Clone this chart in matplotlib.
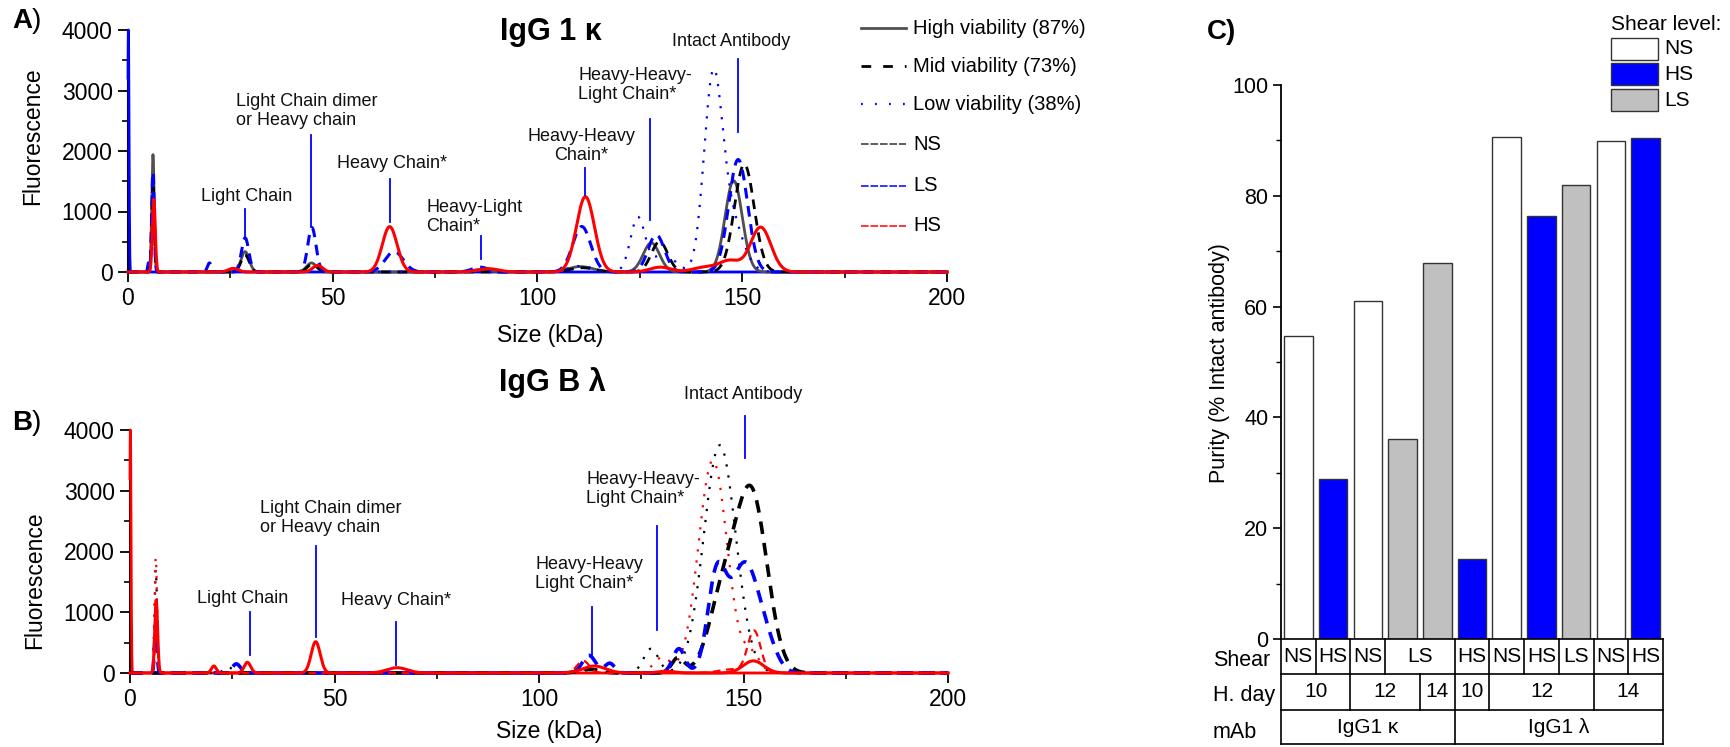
import numpy as np
import matplotlib.pyplot as plt
from matplotlib.lines import Line2D
from matplotlib.patches import Rectangle
from matplotlib.transforms import blended_transform_factory

plt.rcParams['font.family'] = ['Liberation Sans', 'DejaVu Sans']

# ---------------- data: electropherogram peaks (centre kDa, height, sd) ----------------
# panel A, IgG 1 kappa
a_high_ns_pos = [6.1, 28.6, 44.8, 86.0, 110.5, 127.8, 147.9]
a_high_ns_ht = [1940, 337, 150, 40, 90, 481, 1510]
a_high_ns_sd = [0.3, 1.0, 1.2, 2.0, 3.0, 2.0, 2.1]

a_mid_ns_pos = [6.1, 28.6, 45.0, 111.0, 129.8, 150.5]
a_mid_ns_ht = [1500, 280, 130, 70, 500, 1780]
a_mid_ns_sd = [0.3, 1.0, 1.2, 3.0, 2.0, 2.4]

a_low_ls_pos = [6.1, 110.5, 124.5, 131.0, 142.8, 147.0]
a_low_ls_ht = [1400, 100, 900, 300, 3000, 900]
a_low_ls_sd = [0.3, 3.0, 1.8, 2.5, 2.2, 3.0]

a_mid_ls_pos = [5.0, 6.1, 19.9, 28.6, 44.9, 65.0, 86.0, 110.8, 129.0, 149.0]
a_mid_ls_ht = [150, 1660, 150, 564, 736, 337, 80, 752, 614, 1859]
a_mid_ls_sd = [0.2, 0.3, 0.5, 0.9, 1.0, 2.2, 2.0, 2.2, 2.0, 2.3]

a_high_hs_pos = [6.3, 25.7, 46.3, 63.9, 88.0, 111.7, 130.0, 141.0, 147.0, 154.5]
a_high_hs_ht = [1200, 60, 110, 750, 55, 1245, 80, 80, 180, 740]
a_high_hs_sd = [0.35, 1.2, 1.2, 1.8, 2.5, 2.2, 2.5, 3.0, 2.5, 2.5]

# off-scale marker spike at the start of each run
a_start_pos, a_start_ht, a_start_sd = [0.1], [4000], [0.15]
b_start_pos, b_start_ht, b_start_sd = [0.1], [4000], [0.15]

# panel B, IgG B lambda
b_low_ns_pos = [6.3, 24.0, 112.0, 127.4, 144.2]
b_low_ns_ht = [1700, 100, 60, 400, 3750]
b_low_ns_sd = [0.3, 1.0, 2.5, 1.8, 3.9]

b_low_hs_pos = [6.3, 130.0, 142.5, 152.0]
b_low_hs_ht = [1900, 250, 3500, 300]
b_low_hs_sd = [0.3, 2.0, 3.5, 2.0]

b_mid_ns_pos = [112.5, 134.0, 145.0, 152.0]
b_mid_ns_ht = [60, 250, 1200, 2900]
b_mid_ns_sd = [2.5, 1.5, 3.5, 3.8]

b_mid_ls_pos = [6.3, 26.0, 112.2, 117.3, 134.2, 143.4, 150.3, 156.0]
b_mid_ls_ht = [800, 150, 290, 160, 400, 1500, 1800, 250]
b_mid_ls_sd = [0.3, 1.0, 1.6, 1.2, 1.5, 2.2, 3.6, 2.5]

b_mid_hs_pos = [6.4, 110.8, 147.0, 152.6]
b_mid_hs_ht = [900, 200, 60, 690]
b_mid_hs_sd = [0.3, 1.5, 3.0, 1.6]

b_high_hs_pos = [6.4, 20.5, 28.7, 45.4, 65.3, 113.5, 131.0, 152.4]
b_high_hs_ht = [1200, 115, 176, 515, 87, 115, 30, 200]
b_high_hs_sd = [0.35, 0.6, 0.8, 1.1, 2.5, 2.8, 2.0, 2.5]

# peak annotations
a_ann_text = ['Light Chain', 'Light Chain dimer\nor Heavy chain', 'Heavy Chain*',
              'Heavy-Light\nChain*', 'Heavy-Heavy\nChain*', 'Heavy-Heavy-\nLight Chain*',
              'Intact Antibody']
a_ann_x = [28.9, 26.4, 64.5, 72.8, 110.7, 110.0, 147.2]
a_ann_y = [1250, 2657, 1793, 907, 2080, 3087, 3806]
a_ann_ha = ['center', 'left', 'center', 'left', 'center', 'left', 'center']
a_tick_x = [28.6, 44.6, 64.1, 86.3, 111.7, 127.4, 148.9]
a_tick_y0 = [1045, 2257, 1543, 598, 1726, 2523, 3518]
a_tick_y1 = [580, 750, 830, 216, 1278, 863, 2307]

b_ann_text = ['Light Chain', 'Light Chain dimer\nor Heavy chain', 'Heavy Chain*',
              'Heavy-Heavy\nLight Chain*', 'Heavy-Heavy-\nLight Chain*', 'Intact Antibody']
b_ann_x = [27.5, 31.9, 65.0, 99.1, 111.5, 149.8]
b_ann_y = [1230, 2546, 1201, 1628, 3029, 4592]
b_ann_ha = ['center', 'left', 'center', 'left', 'left', 'center']
b_tick_x = [29.4, 45.5, 65.1, 113.0, 128.8, 150.3]
b_tick_y0 = [1004, 2090, 840, 1086, 2420, 4235]
b_tick_y1 = [296, 598, 132, 296, 708, 3544]

legend_labels = ['High viability (87%)', 'Mid viability (73%)', 'Low viability (38%)',
                 'NS', 'LS', 'HS']

# panel C: purity
purity = [54.7, 28.8, 61.0, 36.1, 67.8, 14.5, 90.7, 76.4, 82.0, 89.9, 90.4]
shear = ['NS', 'HS', 'NS', 'LS', 'LS', 'HS', 'NS', 'HS', 'LS', 'NS', 'HS']
harvest_day = ['10', '10', '12', '12', '14', '10', '12', '12', '12', '14', '14']
mab = ['IgG1 κ'] * 5 + ['IgG1 λ'] * 6
shear_colors = {'NS': 'white', 'HS': '#0000FF', 'LS': '#C0C0C0'}

# ---------------- figure ----------------
W, H = 1731, 747
fig = plt.figure(figsize=(W / 100, H / 100), dpi=100)


def box(x0, y0, x1, y1):
    return [x0 / W, 1 - y1 / H, (x1 - x0) / W, (y1 - y0) / H]


def fx(px):
    return px / W


def fy(py):
    return 1 - py / H


axA = fig.add_axes(box(128, 30, 947, 272))
axB = fig.add_axes(box(130, 430, 948, 673))
axC = fig.add_axes(box(1281, 85, 1663, 639))

x = np.linspace(0, 200, 4001)


def trace(pos, ht, sd):
    y = np.zeros_like(x)
    for p, h, s in zip(pos, ht, sd):
        y += h * np.exp(-0.5 * ((x - p) / s) ** 2)
    return np.minimum(y, 4000)


GRAY = '#505050'
dotted = (0, (1.0, 4.0))
dashed = (0, (3.5, 2.5))

kw = dict(clip_on=False, zorder=3)
axA.plot(x, trace(a_start_pos, a_start_ht, a_start_sd), color='#0000FF', lw=2.0, **kw)
axA.plot(x, trace(a_high_ns_pos, a_high_ns_ht, a_high_ns_sd), color=GRAY, lw=2.0, **kw)
axA.plot(x, trace(a_mid_ns_pos, a_mid_ns_ht, a_mid_ns_sd), color='black', lw=2.0, ls=dashed, **kw)
axA.plot(x, trace(a_low_ls_pos, a_low_ls_ht, a_low_ls_sd), color='#0000FF', lw=1.6, ls=dotted, **kw)
axA.plot(x, trace(a_mid_ls_pos, a_mid_ls_ht, a_mid_ls_sd), color='#0000FF', lw=2.2, ls=dashed, **kw)
axA.plot(x, trace(a_high_hs_pos, a_high_hs_ht, a_high_hs_sd), color='#FF0000', lw=2.2, **kw)

axB.plot(x, trace(b_start_pos, b_start_ht, b_start_sd), color='#FF0000', lw=2.0, **kw)
axB.plot(x, trace(b_low_ns_pos, b_low_ns_ht, b_low_ns_sd), color='black', lw=1.6, ls=dotted, **kw)
axB.plot(x, trace(b_low_hs_pos, b_low_hs_ht, b_low_hs_sd), color='#FF0000', lw=1.6, ls=dotted, **kw)
axB.plot(x, trace(b_mid_ns_pos, b_mid_ns_ht, b_mid_ns_sd), color='black', lw=2.6, ls=dashed, **kw)
axB.plot(x, trace(b_mid_ls_pos, b_mid_ls_ht, b_mid_ls_sd), color='#0000FF', lw=2.6, ls=dashed, **kw)
axB.plot(x, trace(b_mid_hs_pos, b_mid_hs_ht, b_mid_hs_sd), color='#FF0000', lw=1.6, ls=dashed, **kw)
axB.plot(x, trace(b_high_hs_pos, b_high_hs_ht, b_high_hs_sd), color='#FF0000', lw=2.2, **kw)

for ax, texts, tx, ty, ha, lx, ly0, ly1 in [
        (axA, a_ann_text, a_ann_x, a_ann_y, a_ann_ha, a_tick_x, a_tick_y0, a_tick_y1),
        (axB, b_ann_text, b_ann_x, b_ann_y, b_ann_ha, b_tick_x, b_tick_y0, b_tick_y1)]:
    ax.set_xlim(0, 200)
    ax.set_ylim(0, 4000)
    ax.set_xticks([0, 50, 100, 150, 200])
    ax.set_xticks([25, 75, 125, 175], minor=True)
    ax.set_yticks([0, 1000, 2000, 3000, 4000])
    ax.set_yticks([500, 1500, 2500, 3500], minor=True)
    ax.tick_params(which='major', direction='out', length=7, width=1.3, labelsize=16.5, pad=4)
    ax.tick_params(which='minor', direction='out', length=4, width=1.2)
    for s in ['top', 'right']:
        ax.spines[s].set_visible(False)
    for s in ['left', 'bottom']:
        ax.spines[s].set_linewidth(1.5)
    ax.set_xlabel('Size (kDa)', fontsize=16.5)
    ax.set_ylabel('Fluorescence', fontsize=16.5)
    for t, xx, yy, h in zip(texts, tx, ty, ha):
        ax.text(xx, yy, t, ha=h, va='center', fontsize=13, color='#111111',
                linespacing=1.15, clip_on=False)
    for xx, y0, y1 in zip(lx, ly0, ly1):
        ax.plot([xx, xx], [y0, y1], color='#0000FF', lw=1.3, clip_on=False, zorder=4)

axA.xaxis.set_label_coords(0.515, -0.215)
axB.xaxis.set_label_coords(0.513, -0.195)
axA.yaxis.set_label_coords(-0.103, 0.562)
axB.yaxis.set_label_coords(-0.103, 0.383)

# legend of panel A (line style = viability, colour = shear)
leg_y = [4025, 3402, 2772, 2108, 1427, 763]
leg_styles = [dict(color=GRAY, lw=2.0, ls='-'),
              dict(color='black', lw=2.0, ls=(0, (3.5, 4.3))),
              dict(color='#0000FF', lw=1.6, ls=(0, (0.8, 5.5))),
              dict(color='#333333', lw=1.1, ls=(0, (5, 1.2))),
              dict(color='#0000FF', lw=1.1, ls=(0, (5, 1.2))),
              dict(color='#FF0000', lw=1.1, ls=(0, (5, 1.2)))]
for lab, yy, st in zip(legend_labels, leg_y, leg_styles):
    axA.add_line(Line2D([179, 190], [yy, yy], clip_on=False, **st))
    axA.text(191.7, yy, lab, fontsize=14.5, va='center', ha='left', clip_on=False)

# titles and panel letters
fig.text(fx(551), fy(32), 'IgG 1 κ', ha='center', va='center', fontsize=22, weight='bold')
fig.text(fx(552), fy(383), 'IgG B λ', ha='center', va='center', fontsize=22, weight='bold')
fig.text(fx(12), fy(21), 'A', ha='left', va='center', fontsize=20, weight='bold')
fig.text(fx(32), fy(21), ')', ha='left', va='center', fontsize=20)
fig.text(fx(12), fy(423), 'B', ha='left', va='center', fontsize=20, weight='bold')
fig.text(fx(32), fy(423), ')', ha='left', va='center', fontsize=20)
fig.text(fx(1207), fy(32), 'C)', ha='left', va='center', fontsize=20, weight='bold')

# ---------------- panel C ----------------
pos = np.arange(len(purity))
axC.bar(pos, purity, width=0.82, color=[shear_colors[s] for s in shear],
        edgecolor='#333333', linewidth=1.0, zorder=2)
axC.set_xlim(-0.5, len(purity) - 0.5)
axC.set_ylim(0, 100)
axC.set_yticks(range(0, 101, 20))
axC.set_yticks(range(10, 100, 20), minor=True)
axC.set_xticks([])
axC.tick_params(which='major', axis='y', direction='out', length=6, width=1.2, labelsize=15.5, pad=3)
axC.tick_params(which='minor', axis='y', direction='out', length=3.5, width=1.0)
for s in ['top', 'right', 'bottom']:
    axC.spines[s].set_visible(False)
axC.spines['left'].set_linewidth(1.3)
axC.set_ylabel('Purity (% Intact antibody)', fontsize=15.5)
axC.yaxis.set_label_coords(-0.134, 0.498)

# category table under the bars
trans = blended_transform_factory(axC.transData, axC.transAxes)
row_edges = [0, -0.063, -0.128, -0.19]
x0, x1 = -0.5, len(purity) - 0.5
lkw = dict(color='black', lw=1.2, clip_on=False, transform=trans)
for yy in row_edges:
    axC.plot([x0, x1], [yy, yy], **lkw)
axC.plot([x0, x0], [0, row_edges[-1]], **lkw)
axC.plot([x1, x1], [0, row_edges[-1]], **lkw)

for r, labels in enumerate([shear, harvest_day, mab]):
    top, bot = row_edges[r], row_edges[r + 1]
    start = 0
    for i in range(1, len(labels) + 1):
        if i == len(labels) or labels[i] != labels[start]:
            axC.text((start + i - 1) / 2, (top + bot) / 2, labels[start], transform=trans,
                     ha='center', va='center', fontsize=15, clip_on=False)
            if i < len(labels):
                axC.plot([i - 0.5, i - 0.5], [top, bot], **lkw)
            start = i

for lab, yy in zip(['Shear', 'H. day', 'mAb'], [660, 696, 732]):
    fig.text(fx(1213), fy(yy), lab, ha='left', va='center', fontsize=15.5)

# shear legend
fig.text(fx(1611), fy(25), 'Shear level:', ha='left', va='center', fontsize=15)
for lab, top in zip(['NS', 'HS', 'LS'], [38, 63, 89]):
    fig.add_artist(Rectangle((fx(1611), fy(top + 22)), 47 / W, 22 / H,
                             transform=fig.transFigure, facecolor=shear_colors[lab],
                             edgecolor='#333333', lw=1.0))
    fig.text(fx(1664), fy(top + 11), lab, ha='left', va='center', fontsize=15)

fig.savefig('out.png', dpi=100)
